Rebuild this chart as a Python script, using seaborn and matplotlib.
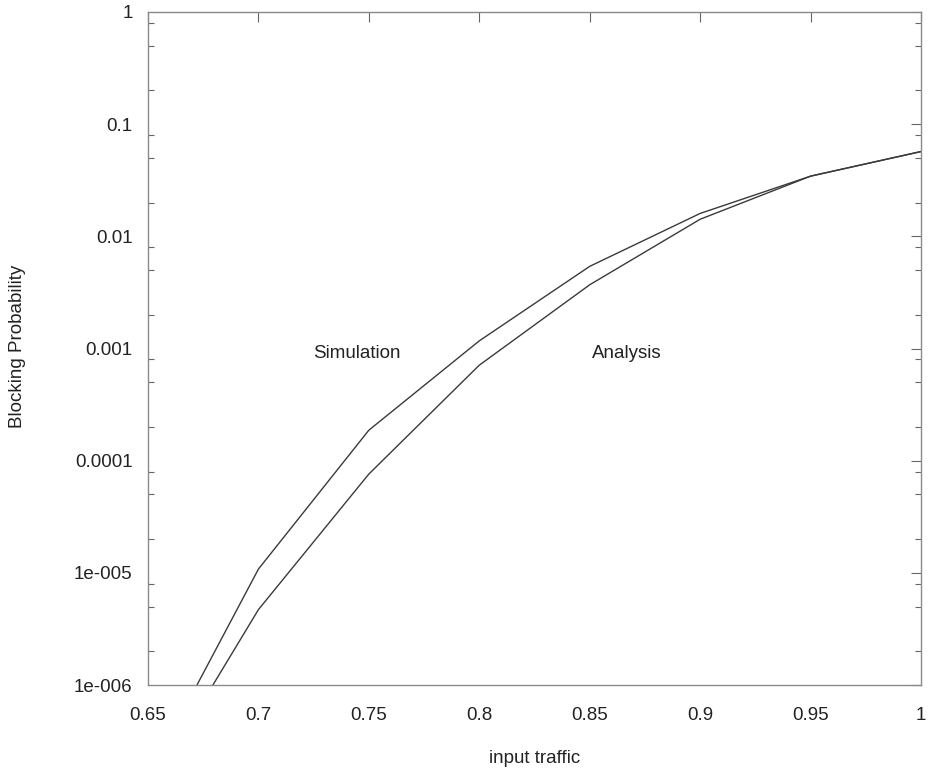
import numpy as np
import pandas as pd
import matplotlib
matplotlib.use("Agg")
import matplotlib.pyplot as plt
import seaborn as sns
from matplotlib.ticker import FixedLocator, FixedFormatter, LogLocator, NullFormatter

traffic = [0.65, 0.70, 0.75, 0.80, 0.85, 0.90, 0.95, 1.00]
simulation = [1.5e-7, 1.08e-5, 1.87e-4, 1.17e-3, 5.4e-3, 0.0160, 0.0344, 0.057]
analysis = [1.1e-7, 4.7e-6, 7.6e-5, 7.1e-4, 3.7e-3, 0.0142, 0.0344, 0.057]

x_ticks = [0.65, 0.7, 0.75, 0.8, 0.85, 0.9, 0.95, 1.0]
x_labels = ["0.65", "0.7", "0.75", "0.8", "0.85", "0.9", "0.95", "1"]
y_ticks = [1e-6, 1e-5, 1e-4, 1e-3, 1e-2, 1e-1, 1]
y_labels = ["1e-006", "1e-005", "0.0001", "0.001", "0.01", "0.1", "1"]

df = pd.DataFrame({
    "traffic": traffic * 2,
    "prob": simulation + analysis,
    "series": ["Simulation"] * len(traffic) + ["Analysis"] * len(traffic),
})

sns.set_theme(style="white")
plt.rcParams["font.family"] = ["Liberation Sans", "DejaVu Sans"]

FS = 13.5
TXT = "#222222"

fig = plt.figure(figsize=(9.31, 7.72), dpi=100)
ax = fig.add_axes([148 / 931, 1 - 685 / 772, (921 - 148) / 931, (685 - 12) / 772])

sns.lineplot(data=df, x="traffic", y="prob", hue="series",
             palette={"Simulation": "#3a3a3a", "Analysis": "#3a3a3a"},
             linewidth=1.0, legend=False, ax=ax)

ax.set_yscale("log")
ax.set_xlim(0.65, 1.0)
ax.set_ylim(1e-6, 1)

ax.xaxis.set_major_locator(FixedLocator(x_ticks))
ax.xaxis.set_major_formatter(FixedFormatter(x_labels))
ax.yaxis.set_major_locator(FixedLocator(y_ticks))
ax.yaxis.set_major_formatter(FixedFormatter(y_labels))
ax.yaxis.set_minor_locator(LogLocator(base=10, subs=(2.0, 5.0, 8.0), numticks=20))
ax.yaxis.set_minor_formatter(NullFormatter())

ax.tick_params(axis="both", which="major", direction="in", length=7, width=0.8,
               color="#666666", labelsize=FS, labelcolor=TXT,
               top=True, right=True)
ax.tick_params(axis="x", which="major", pad=15.5)
ax.tick_params(axis="y", which="major", pad=11)
ax.tick_params(axis="y", which="minor", direction="in", length=4, width=0.8,
               color="#666666", left=True, right=True)

for s in ax.spines.values():
    s.set_color("#8a8a8a")
    s.set_linewidth(1.0)

ax.set_xlabel("input traffic", fontsize=FS, color=TXT)
ax.xaxis.set_label_coords(0.5, -0.097)
ax.set_ylabel("Blocking Probability", fontsize=FS, color=TXT)
ax.yaxis.set_label_coords(-0.158, 0.503)

ax.text(0.7446, 9.1e-4, "Simulation", fontsize=FS, color=TXT, ha="center", va="center")
ax.text(0.8669, 9.1e-4, "Analysis", fontsize=FS, color=TXT, ha="center", va="center")

fig.savefig("out.png", dpi=100, facecolor="white")
